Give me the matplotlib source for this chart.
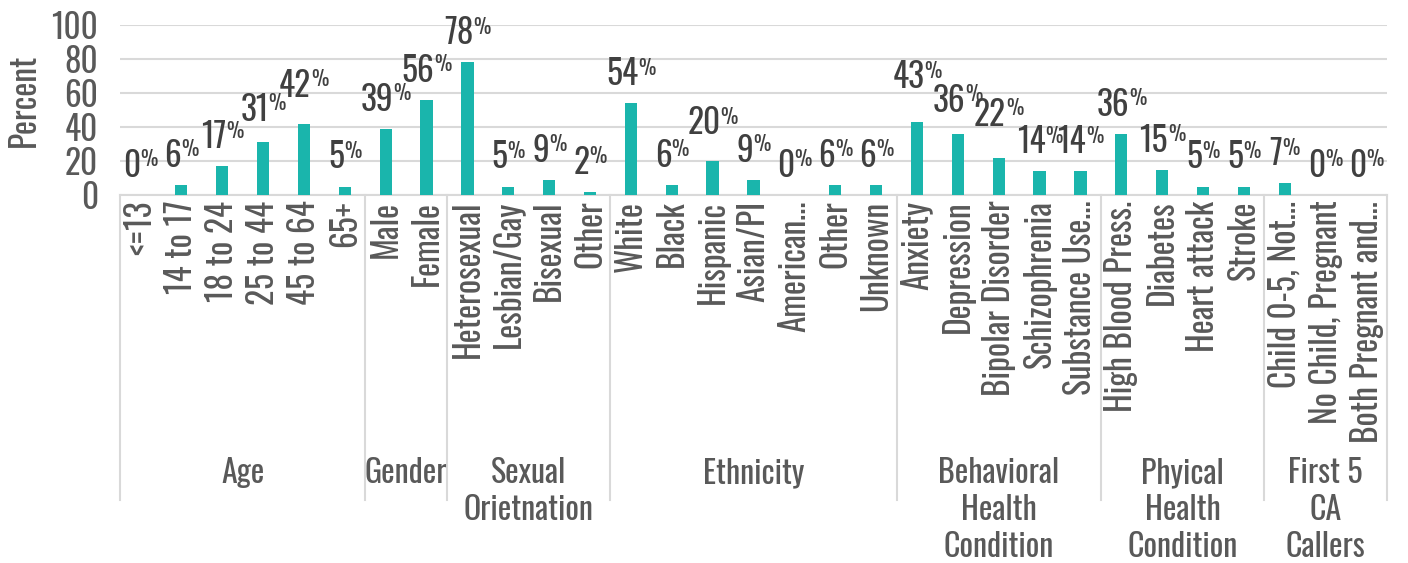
import numpy as np
import matplotlib
matplotlib.use("Agg")
import matplotlib.pyplot as plt
from matplotlib import font_manager as fm
from matplotlib.textpath import TextPath
from matplotlib.font_manager import FontProperties
from matplotlib.transforms import blended_transform_factory

names = set(f.name for f in fm.fontManager.ttflist)
font = 'Oswald' if 'Oswald' in names else 'Roboto Condensed'
plt.rcParams['font.family'] = font

groups = ["Age", "Gender", "Sexual\nOrietnation", "Ethnicity", "Behavioral\nHealth\nCondition",
          "Phyical\nHealth\nCondition", "First 5\nCA\nCallers"]
cats = [
    ["<=13", "14 to 17", "18 to 24", "25 to 44", "45 to 64", "65+"],
    ["Male", "Female"],
    ["Heterosexual", "Lesbian/Gay", "Bisexual", "Other"],
    ["White", "Black", "Hispanic", "Asian/PI", "American…", "Other", "Unknown"],
    ["Anxiety", "Depression", "Bipolar Disorder", "Schizophrenia", "Substance Use…"],
    ["High Blood Press.", "Diabetes", "Heart attack", "Stroke"],
    ["Child 0-5, Not…", "No Child, Pregnant", "Both Pregnant and…"],
]
values = [
    [0, 6, 17, 31, 42, 5],
    [39, 56],
    [78, 5, 9, 2],
    [54, 6, 20, 9, 0, 6, 6],
    [43, 36, 22, 14, 14],
    [36, 15, 5, 5],
    [7, 0, 0],
]

labels = [c for g in cats for c in g]
vals = [v for g in values for v in g]
x = np.arange(len(labels))

W, H = 1408, 563
fig = plt.figure(figsize=(W / 100, H / 100), dpi=100)
left, right, top, bot = 120, 1387, 25, 195
ax = fig.add_axes([left / W, 1 - bot / H, (right - left) / W, (bot - top) / H])

teal = '#1AB5AC'
dark = '#404040'
grey = '#595959'
ax.bar(x, vals, width=0.3, color=teal, zorder=3)
ax.set_xlim(-0.5, len(labels) - 0.5)
ax.set_ylim(0, 100)
ax.set_yticks(range(0, 101, 20))
ax.grid(axis='y', color='#D9D9D9', lw=1.5, zorder=0)
for s in ['top', 'right', 'left']:
    ax.spines[s].set_visible(False)
ax.spines['bottom'].set_color('#D9D9D9')
ax.spines['bottom'].set_linewidth(1.5)
ax.tick_params(axis='y', length=0, labelsize=24, labelcolor=grey, pad=16)
ax.tick_params(axis='x', length=0, pad=4)
ax.set_xticks(x)
ax.set_xticklabels(labels, rotation=90, ha='center', va='top', fontsize=24, color=grey)
ax.set_ylabel('Percent', fontsize=24, color=grey)
ax.yaxis.set_label_coords((41 - left) / (right - left), (bot - 100) / (bot - top))

# data labels: big number with a small raised percent sign (sizes in pixels -> points)
num_size, pct_size = 24, 14
px2pt = 72 / 100
fig.canvas.draw()
r = fig.canvas.get_renderer()
prop = FontProperties(family=font)
cap = TextPath((0, 0), '0', size=num_size / px2pt, prop=prop).get_extents().height
pcap = TextPath((0, 0), '%', size=pct_size / px2pt, prop=prop).get_extents().height


def width(s, size):
    t = ax.text(0, 0, s, fontsize=size)
    w = t.get_window_extent(r).width
    t.remove()
    return w


pw = width('%', pct_size)
gap = 18  # px between bar top and label baseline
boxes = []
for xi, v in zip(x, vals):
    wn = width(f'{v}', num_size)
    cx, by = ax.transData.transform((xi, v))
    boxes.append([cx - (wn + pw) / 2, cx + (wn + pw) / 2, by + gap, wn])

# lift the taller bar's label above its neighbour's label where they collide
natural = [b[2] for b in boxes]
for i in range(len(vals) - 1):
    a, b = boxes[i], boxes[i + 1]
    if vals[i] == vals[i + 1] or a[1] <= b[0] + 1:
        continue
    na, nb = natural[i], natural[i + 1]
    if na < nb + cap and nb < na + cap:
        if vals[i] > vals[i + 1]:
            a[2] = max(a[2], nb + cap)
        else:
            b[2] = max(b[2], na + cap)

for xi, v, (x0, x1, base, wn) in zip(x, vals, boxes):
    cx, by = ax.transData.transform((xi, v))
    ax.annotate(f'{v}', (xi, v), xytext=((x0 - cx) * px2pt, (base - by) * px2pt),
                textcoords='offset points', ha='left', va='baseline', fontsize=num_size,
                color=dark, annotation_clip=False)
    ax.annotate('%', (xi, v), xytext=((x0 + wn - cx) * px2pt, (base + cap - pcap - 1 - by) * px2pt),
                textcoords='offset points', ha='left', va='baseline', fontsize=pct_size,
                color=dark, annotation_clip=False)

# group separators and group labels
trans = blended_transform_factory(ax.transData, ax.transAxes)
ah = bot - top
sep_bottom = -(500 - bot) / ah
edges = np.cumsum([0] + [len(g) for g in cats]) - 0.5
for e in edges:
    ax.plot([e, e], [0, sep_bottom], transform=trans, color='#D9D9D9', lw=1.5, clip_on=False)
for i, g in enumerate(groups):
    cx = (edges[i] + edges[i + 1]) / 2
    for k, line in enumerate(g.split('\n')):
        ax.text(cx, -(483 + 37 * k - bot) / ah, line, transform=trans, ha='center',
                va='baseline', fontsize=23, color=grey)

fig.savefig('out.png', dpi=100)
